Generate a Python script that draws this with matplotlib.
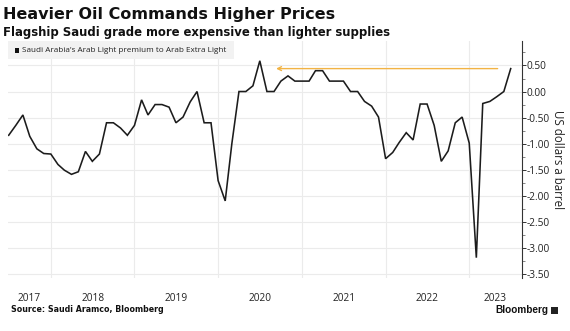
import matplotlib
matplotlib.use("Agg")
import matplotlib.pyplot as plt
from matplotlib.patches import Rectangle
from matplotlib.ticker import FixedLocator, MultipleLocator, NullFormatter
import pandas as pd

# Monthly Arab Light premium over Arab Extra Light, USD per barrel
months = pd.date_range("2017-07-01", "2023-07-01", freq="MS")
premium = [
    -0.84, -0.65, -0.45, -0.86, -1.10, -1.19,                # 2017 H2
    -1.20, -1.40, -1.51, -1.59, -1.54, -1.15,                # 2018
    -1.34, -1.20, -0.60, -0.60, -0.70, -0.84,
    -0.65, -0.16, -0.45, -0.25, -0.25, -0.30,                # 2019
    -0.60, -0.49, -0.20, 0.00, -0.60, -0.60,
    -1.71, -2.10, -1.00, 0.00, 0.00, 0.11,                   # 2020
    0.59, 0.00, 0.00, 0.20, 0.30, 0.20,
    0.20, 0.20, 0.40, 0.40, 0.20, 0.20,                      # 2021
    0.20, 0.00, 0.00, -0.19, -0.28, -0.49,
    -1.29, -1.17, -0.98, -0.79, -0.93, -0.24,                # 2022
    -0.24, -0.65, -1.34, -1.14, -0.60, -0.49,
    -0.99, -3.19, -0.23, -0.19, -0.10, 0.00, 0.44,           # 2023
]
years = [2017, 2018, 2019, 2020, 2021, 2022, 2023]
yticks = [0.50, 0.00, -0.50, -1.00, -1.50, -2.00, -2.50, -3.00, -3.50]

title = "Heavier Oil Commands Higher Prices"
subtitle = "Flagship Saudi grade more expensive than lighter supplies"
series_label = "Saudi Arabia's Arab Light premium to Arab Extra Light"
ylabel = "US dollars a barrel"
source = "Source: Saudi Aramco, Bloomberg"

W, H = 570, 331
fig = plt.figure(figsize=(W / 100, H / 100), dpi=100)
fig.patch.set_facecolor("white")

left, right, top, bottom = 8, 521.7, 41, 278
ax = fig.add_axes([left / W, 1 - bottom / H, (right - left) / W, (bottom - top) / H])
ax.set_facecolor("none")

ax.plot(months, premium, color="#1c1c1c", lw=1.15, solid_joinstyle="miter", zorder=3)

x0, x1 = pd.Timestamp("2017-06-28"), pd.Timestamp("2023-08-18")
ax.set_xlim(x0, x1)
ax.set_ylim(-3.58, 0.97)

# y axis on the right with outward ticks
for s in ("left", "top", "bottom"):
    ax.spines[s].set_visible(False)
ax.spines["right"].set_color("#333333")
ax.spines["right"].set_linewidth(0.8)
ax.yaxis.tick_right()
ax.yaxis.set_major_locator(FixedLocator(yticks))
ax.set_yticklabels([f"{v:.2f}" for v in yticks], family="Open Sans", fontsize=7.3, color="#222222")
ax.yaxis.set_minor_locator(MultipleLocator(0.25))
ax.tick_params(axis="y", which="major", length=3, width=0.7, color="#333333", pad=0.5)
ax.tick_params(axis="y", which="minor", length=1.8, width=0.5, color="#555555")

# year boundaries as gridlines, labels centred within each visible year
year_starts = [pd.Timestamp(f"{y}-01-01") for y in years[1:]]
ax.xaxis.set_major_locator(FixedLocator([matplotlib.dates.date2num(d) for d in year_starts]))
ax.xaxis.set_major_formatter(NullFormatter())
edges = [x0] + year_starts + [x1]
mids = [edges[i] + (edges[i + 1] - edges[i]) / 2 for i in range(len(years))]
ax.xaxis.set_minor_locator(FixedLocator([matplotlib.dates.date2num(d) for d in mids]))
ax.set_xticklabels([str(y) for y in years], minor=True, family="Open Sans", fontsize=7.3, color="#222222")
ax.tick_params(axis="x", which="both", length=0, pad=10.5)

ax.grid(axis="y", which="major", color="#ebebeb", lw=0.8, zorder=0)
ax.grid(axis="x", which="major", color="#ebebeb", lw=0.8, zorder=0)

ax.set_ylabel(ylabel, family="Open Sans", fontsize=8.3, color="#222222", rotation=270, labelpad=10)
ax.yaxis.set_label_position("right")

# arrow from the latest reading back to the 2020 level
ax.annotate("", xy=(pd.Timestamp("2020-09-10"), premium[-1]),
            xytext=(pd.Timestamp("2023-05-05"), premium[-1]),
            arrowprops=dict(arrowstyle="->", color="#f2b344", lw=1.0, mutation_scale=7,
                            shrinkA=0, shrinkB=0), zorder=2)

# headings
fig.text(3 / W, 1 - 14 / H, title, family="DejaVu Sans", fontweight="bold", fontsize=11.5,
         va="center", ha="left", color="#111111")
fig.text(3 / W, 1 - 32.5 / H, subtitle, family="DejaVu Sans", fontweight="bold", fontsize=8.4,
         va="center", ha="left", color="#111111")

# legend chip
fig.patches.append(Rectangle((8 / W, 1 - 59 / H), 226 / W, 18 / H, transform=fig.transFigure,
                             facecolor="#f2f2f2", edgecolor="none", zorder=1))
fig.patches.append(Rectangle((14.5 / W, 1 - 53 / H), 5 / W, 5 / H, transform=fig.transFigure,
                             facecolor="#111111", edgecolor="none", zorder=2))
fig.text(21.5 / W, 1 - 50.5 / H, series_label, family="Open Sans", fontsize=5.9,
         va="center", ha="left", color="#222222", zorder=3)

# footer
fig.text(11 / W, 1 - 310 / H, source, family="DejaVu Sans", fontweight="bold", fontsize=5.7,
         va="center", ha="left", color="#111111")
fig.text(548 / W, 1 - 310 / H, "Bloomberg", family="Liberation Sans", fontweight="bold",
         fontsize=7.2, va="center", ha="right", color="#111111")
fig.patches.append(Rectangle((551 / W, 1 - 313.5 / H), 6.5 / W, 7 / H, transform=fig.transFigure,
                             facecolor="#222222", edgecolor="none"))

fig.savefig("out.png", dpi=100, facecolor="white")
